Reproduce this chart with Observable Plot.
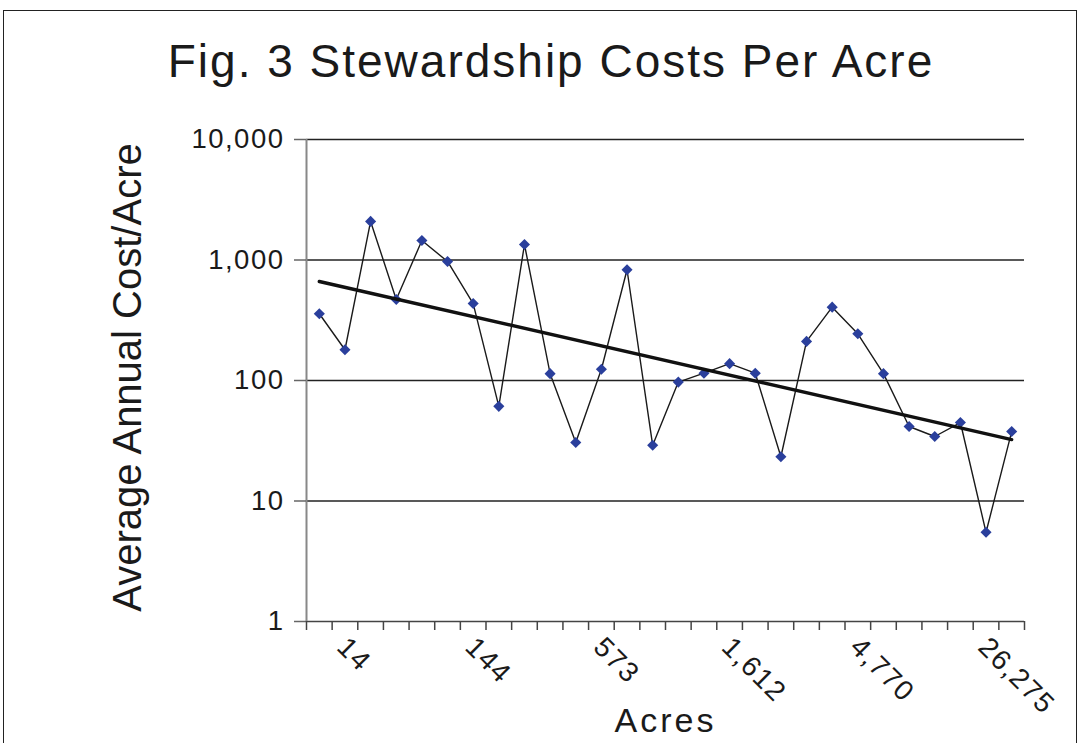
<!DOCTYPE html>
<html><head><meta charset="utf-8">
<script src="https://cdn.jsdelivr.net/npm/d3@7"></script>
<script src="https://cdn.jsdelivr.net/npm/@observablehq/plot@0.6"></script>
<style>
html,body{margin:0;padding:0;background:#fff;}
#wrap{position:relative;width:1081px;height:743px;overflow:hidden;font-family:"Liberation Sans",Arial,sans-serif;}
#border{position:absolute;left:3px;top:10px;width:1074px;height:800px;border:1.5px solid #222;box-sizing:border-box;}
#title{position:absolute;left:0;width:1102px;top:38px;text-align:center;font-size:46px;line-height:46px;letter-spacing:2px;color:#1a1a1a;}
#chart{position:absolute;left:0;top:0;}
#chart text{letter-spacing:1.5px;}
</style></head><body>
<div id="wrap"><div id="border"></div><div id="chart"></div><div id="title">Fig. 3 Stewardship Costs Per Acre</div></div>
<script>
// Category (acres) labels: only every fifth category is labelled in the original
const acreLabels = ["", "14", "", "", "", "", "144", "", "", "", "", "573", "", "", "", "", "1,612", "", "", "", "", "4,770", "", "", "", "", "26,275", ""];
// Average annual cost per acre for each category
const costPerAcre = [358, 180, 2090, 470, 1450, 972, 435, 61, 1345, 114, 30.6, 124, 830, 29, 97, 115, 138, 115, 23.3, 211, 406, 244, 114, 41.5, 34.3, 44.8, 5.5, 37.7];
// y-axis tick values
const yTicks = [1, 10, 100, 1000, 10000];

const points = costPerAcre.map((v, i) => ({i: i + 1, v, label: acreLabels[i]}));
const n = points.length;
const edges = d3.range(0, n + 1).map(k => k + 0.5);
const labeledIdx = points.filter(d => d.label !== "").map(d => d.i);

// exponential trendline (least squares on log10 values)
const idx = points.map(d => d.i);
const logs = points.map(d => Math.log10(d.v));
const mx = d3.mean(idx), my = d3.mean(logs);
const slope = d3.sum(idx, (x, k) => (x - mx) * (logs[k] - my)) / d3.sum(idx, x => (x - mx) ** 2);
const trend = [1, n].map(x => ({i: x, v: Math.pow(10, my + slope * (x - mx))}));

const plot = Plot.plot({
  width: 1081, height: 743,
  marginTop: 139, marginBottom: 122, marginLeft: 306, marginRight: 57,
  style: {fontFamily: '"Liberation Sans", Arial, sans-serif', color: "#1a1a1a", background: "transparent", overflow: "visible"},
  x: {type: "linear", domain: [0.5, n + 0.5], axis: null},
  y: {type: "log", domain: [1, 10000], axis: null},
  marks: [
    Plot.ruleY(yTicks.slice(1), {stroke: "#222", strokeWidth: 1.3}),
    Plot.ruleY([1], {stroke: "#444", strokeWidth: 1.5}),
    Plot.ruleX([0.5], {stroke: "#888", strokeWidth: 2}),
    Plot.axisY({ticks: yTicks, tickFormat: d3.format(","), tickSize: 12, tickPadding: 10, fontSize: 27.5, stroke: "#666", strokeWidth: 1.5, label: null}),
    Plot.axisX({ticks: edges, tickFormat: () => "", tickSize: 9, stroke: "#444", strokeWidth: 1.5, label: null}),
    Plot.axisX({ticks: labeledIdx, tickFormat: i => acreLabels[i - 1], tickSize: 0, tickPadding: 21, tickRotate: 45, fontSize: 28, dx: -3, label: null}),
    Plot.text(["Average Annual Cost/Acre"], {text: d => d, frameAnchor: "left", textAnchor: "middle", lineAnchor: "middle", dx: -178, dy: -3, rotate: -90, fontSize: 40, fill: "#1a1a1a"}),
    Plot.text(["Acres"], {text: d => d, frameAnchor: "bottom", textAnchor: "middle", lineAnchor: "middle", dy: 100, fontSize: 34, fill: "#1a1a1a"}),
    Plot.line(points, {x: "i", y: "v", stroke: "#1a1a1a", strokeWidth: 1.4}),
    Plot.dot(points, {x: "i", y: "v", symbol: "diamond2", r: 5, fill: "#2a3f9c", stroke: "none"}),
    Plot.line(trend, {x: "i", y: "v", stroke: "#111", strokeWidth: 3.4})
  ]
});
d3.select(plot).selectAll("text").filter(function() { return this.textContent === "Acres"; }).style("letter-spacing", "3px");
d3.select(plot).selectAll("text").filter(function() { return this.textContent === "Average Annual Cost/Acre"; }).style("letter-spacing", "0px");
document.getElementById("chart").appendChild(plot);
</script>
</body></html>
